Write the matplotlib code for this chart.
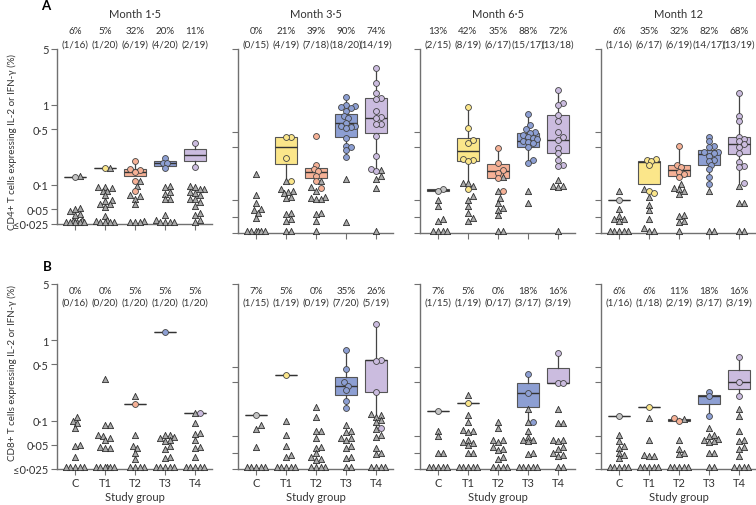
"""
CD4+ / CD8+ T-cell response by study group and visit month.

Two rows of four panels (Month 1.5, 3.5, 6.5, 12), log y axis,
responders as coloured circles with a box, non-responders as grey triangles.
"""
import numpy as np
import matplotlib
matplotlib.use("Agg")
import matplotlib.pyplot as plt
from matplotlib import transforms

plt.rcParams["font.family"] = ["Lato", "DejaVu Sans"]

# ── Labels ────────────────────────────────────────────────────────────────────
MONTHS = ["Month 1·5", "Month 3·5", "Month 6·5", "Month 12"]
GROUPS = ["C", "T1", "T2", "T3", "T4"]
YLABEL_CD4 = "CD4+ T cells expressing IL-2 or IFN-γ (%)"
YLABEL_CD8 = "CD8+ T cells expressing IL-2 or IFN-γ (%)"
YTICK_VALUES = [5, 1, 0.5, 0.1, 0.05]
YTICK_LABELS = ["5", "1", "0·5", "0·1", "0·05"]
LOD = 0.025  # "≤0·025"

# ── Responder counts ──────────────────────────────────────────────────────────
CD4_RESP_N = [[1, 1, 6, 4, 2], [0, 4, 7, 18, 14], [2, 8, 6, 15, 13], [1, 6, 6, 14, 13]]
CD4_TOTAL_N = [[16, 20, 19, 20, 19], [15, 19, 18, 20, 19], [15, 19, 17, 17, 18], [16, 17, 19, 17, 19]]
CD8_RESP_N = [[0, 0, 1, 1, 1], [1, 1, 0, 7, 5], [1, 1, 0, 3, 3], [1, 1, 2, 3, 3]]
CD8_TOTAL_N = [[16, 20, 20, 20, 20], [15, 19, 19, 20, 19], [15, 19, 17, 17, 19], [16, 18, 19, 17, 19]]

# ── CD4, responders (circles) / non-responders (triangles) / box (lo, q1, med, q3, hi)
CD4_M1_POS = [[0.124], [0.165], [0.198, 0.156, 0.152, 0.146, 0.113, 0.085],
              [0.215, 0.19, 0.186, 0.165], [0.33, 0.17]]
CD4_M1_NEG = [[0.13, 0.052, 0.05, 0.047, 0.043, 0.042, 0.036, 0.035, LOD, LOD, LOD, LOD, LOD, LOD],
              [0.165, 0.093, 0.093, 0.092, 0.085, 0.084, 0.074, 0.064, 0.063, 0.058, 0.057,
               0.053, 0.041, 0.036, 0.035, LOD, LOD, LOD, LOD],
              [0.113, 0.097, 0.074, 0.073, 0.067, 0.058, 0.035, LOD, LOD, LOD],
              [0.096, 0.095, 0.081, 0.078, 0.067, 0.066, 0.042, 0.036, LOD, LOD, LOD, LOD],
              [0.096, 0.095, 0.089, 0.088, 0.081, 0.080, 0.074, 0.067, 0.066, 0.061, 0.055,
               0.045, 0.042, 0.036, LOD]]
CD4_M1_BOX = [(0.124, 0.124, 0.124, 0.124, 0.124), (0.165, 0.165, 0.165, 0.165, 0.165),
              (0.128, 0.128, 0.146, 0.156, 0.198), (0.174, 0.174, 0.188, 0.202, 0.215),
              (0.17, 0.198, 0.24, 0.278, 0.33)]

CD4_M3_POS = [[], [0.40, 0.40, 0.215, 0.111], [0.41, 0.178, 0.156, 0.148, 0.13, 0.113, 0.091],
              [1.24, 0.99, 0.97, 0.93, 0.92, 0.85, 0.72, 0.68, 0.60, 0.55, 0.54, 0.53, 0.52,
               0.38, 0.31, 0.30, 0.27, 0.226],
              [2.87, 1.88, 1.40, 1.22, 1.20, 0.85, 0.71, 0.69, 0.58, 0.57, 0.41, 0.23, 0.16, 0.15]]
CD4_M3_NEG = [[0.137, 0.074, 0.060, 0.050, 0.049, 0.044, 0.039, LOD, LOD, LOD, LOD, LOD, LOD],
              [0.111, 0.089, 0.083, 0.082, 0.078, 0.070, 0.069, 0.044, 0.043, 0.0375, 0.035, LOD, LOD],
              [0.113, 0.093, 0.083, 0.070, 0.069, 0.067, 0.066, 0.044, 0.043, 0.035, LOD],
              [0.119, 0.034],
              [0.155, 0.13, 0.119, 0.091, LOD]]
CD4_M3_BOX = [None, (0.111, 0.183, 0.30, 0.40, 0.40), (0.122, 0.122, 0.146, 0.161, 0.161),
              (0.226, 0.40, 0.59, 0.78, 1.24), (0.148, 0.44, 0.69, 1.21, 2.87)]

CD4_M6_POS = [[0.089, 0.085], [0.93, 0.51, 0.36, 0.33, 0.21, 0.205, 0.20, 0.089],
              [0.29, 0.19, 0.154, 0.14, 0.122, 0.085],
              [0.77, 0.56, 0.50, 0.46, 0.45, 0.42, 0.40, 0.38, 0.37, 0.35, 0.345, 0.33, 0.30,
               0.205, 0.187],
              [1.54, 1.06, 1.0, 0.75, 0.62, 0.46, 0.40, 0.365, 0.29, 0.25, 0.205, 0.175, 0.17]]
CD4_M6_NEG = [[0.064, 0.054, 0.0375, 0.035, LOD, LOD, LOD, LOD],
              [0.107, 0.106, 0.097, 0.072, 0.065, 0.054, 0.045, 0.038, 0.035],
              [0.127, 0.085, 0.068, 0.06, 0.052, 0.048, 0.042, LOD, LOD],
              [0.083, 0.06],
              [0.115, 0.097, 0.096, 0.094, LOD]]
CD4_M6_BOX = [(0.085, 0.085, 0.087, 0.089, 0.089), (0.105, 0.198, 0.265, 0.38, 0.93),
              (0.122, 0.122, 0.148, 0.183, 0.29), (0.19, 0.30, 0.35, 0.45, 0.77),
              (0.17, 0.25, 0.365, 0.75, 1.54)]

CD4_M12_POS = [[0.064], [0.21, 0.205, 0.20, 0.178, 0.085, 0.078],
               [0.31, 0.178, 0.165, 0.146, 0.135, 0.126],
               [0.40, 0.35, 0.31, 0.30, 0.26, 0.255, 0.25, 0.23, 0.205, 0.20, 0.178, 0.156,
                0.125, 0.102],
               [1.41, 0.72, 0.62, 0.40, 0.37, 0.35, 0.32, 0.30, 0.25, 0.192, 0.17, 0.168, 0.105]]
CD4_M12_NEG = [[0.084, 0.05, 0.041, 0.0375, 0.037, 0.035, LOD, LOD, LOD, LOD, LOD],
               [0.089, 0.07, 0.056, 0.048, 0.0375, 0.029, LOD, LOD],
               [0.102, 0.091, 0.090, 0.084, 0.076, 0.042, 0.041, 0.035, 0.034, LOD],
               [0.084, LOD, LOD],
               [0.097, 0.06, 0.059, LOD, LOD]]
CD4_M12_BOX = [(0.064, 0.064, 0.064, 0.064, 0.064), (0.102, 0.102, 0.192, 0.198, 0.21),
               (0.13, 0.13, 0.152, 0.175, 0.31), (0.107, 0.178, 0.24, 0.27, 0.40),
               (0.11, 0.24, 0.32, 0.40, 1.41)]

# ── CD8 ───────────────────────────────────────────────────────────────────────
CD8_M1_POS = [[], [], [0.16], [1.25], [0.126]]
CD8_M1_NEG = [[0.111, 0.10, 0.093, 0.082, 0.05, 0.049, 0.035, LOD, LOD, LOD, LOD, LOD],
              [0.33, 0.088, 0.087, 0.066, 0.065, 0.061, 0.057, 0.047, 0.046, 0.045,
               LOD, LOD, LOD, LOD, LOD, LOD],
              [0.2, 0.067, 0.049, 0.045, 0.04, 0.033, LOD, LOD, LOD, LOD],
              [0.067, 0.066, 0.062, 0.061, 0.057, 0.056, 0.049, 0.044, 0.035, 0.034,
               LOD, LOD, LOD, LOD, LOD],
              [0.126, 0.094, 0.07, 0.069, 0.058, 0.047, 0.046, 0.035, LOD, LOD, LOD, LOD, LOD]]
CD8_M1_BOX = [None, None, (0.16, 0.16, 0.16, 0.16, 0.16), (1.25, 1.25, 1.25, 1.25, 1.25),
              (0.126, 0.126, 0.126, 0.126, 0.126)]

CD8_M3_POS = [[0.119], [0.37], [], [0.75, 0.44, 0.30, 0.27, 0.24, 0.176, 0.145],
              [1.59, 0.56, 0.55, 0.225, 0.082]]
CD8_M3_NEG = [[0.088, 0.079, 0.047, LOD, LOD, LOD, LOD, LOD],
              [0.10, 0.067, 0.049, 0.037, 0.035, LOD, LOD, LOD, LOD, LOD],
              [0.146, 0.112, 0.075, 0.074, 0.061, 0.047, 0.046, 0.04, 0.035, 0.033, 0.032,
               LOD, LOD, LOD, LOD],
              [0.089, 0.075, 0.072, 0.061, 0.060, 0.058, 0.049, 0.045, 0.035, 0.034, LOD, LOD],
              [0.12, 0.119, 0.11, 0.103, 0.096, 0.079, 0.067, 0.063, 0.045, 0.04, 0.038,
               LOD, LOD, LOD, LOD]]
CD8_M3_BOX = [(0.119, 0.119, 0.119, 0.119, 0.119), (0.37, 0.37, 0.37, 0.37, 0.37), None,
              (0.145, 0.21, 0.27, 0.35, 0.75), (0.082, 0.225, 0.56, 0.56, 1.59)]

CD8_M6_POS = [[0.13], [0.165], [], [0.38, 0.22, 0.096], [0.69, 0.29, 0.29]]
CD8_M6_NEG = [[0.075, 0.065, 0.04, 0.039, LOD, LOD, LOD, LOD, LOD],
              [0.21, 0.118, 0.096, 0.076, 0.075, 0.072, 0.058, 0.054, 0.053, 0.05, 0.04,
               0.039, LOD, LOD, LOD, LOD, LOD],
              [0.096, 0.08, 0.058, 0.057, 0.054, 0.047, 0.044, 0.043, 0.035, 0.033,
               LOD, LOD, LOD, LOD],
              [0.14, 0.096, 0.074, 0.063, 0.058, 0.057, 0.055, 0.039, 0.038,
               LOD, LOD, LOD, LOD, LOD],
              [0.14, 0.094, 0.093, 0.058, 0.057, 0.055, 0.047, 0.044, 0.04, 0.037, 0.036, LOD, LOD]]
CD8_M6_BOX = [(0.13, 0.13, 0.13, 0.13, 0.13), (0.165, 0.165, 0.165, 0.165, 0.165), None,
              (0.096, 0.146, 0.22, 0.29, 0.38), (0.29, 0.29, 0.29, 0.45, 0.69)]

CD8_M12_POS = [[0.115], [0.146], [0.108, 0.098], [0.23, 0.20, 0.115], [0.61, 0.30, 0.20]]
CD8_M12_NEG = [[0.067, 0.055, 0.049, 0.046, 0.04, 0.037, 0.034, LOD, LOD, LOD, LOD, LOD],
               [0.108, 0.058, 0.037, 0.036, 0.036, LOD, LOD, LOD, LOD, LOD],
               [0.104, 0.058, 0.044, 0.04, 0.038, LOD, LOD, LOD, LOD, LOD],
               [0.08, 0.066, 0.065, 0.059, 0.058, 0.055, 0.054, 0.04, 0.039, LOD, LOD],
               [0.14, 0.115, 0.075, 0.058, 0.055, 0.047, 0.044, 0.036, LOD, LOD, LOD, LOD]]
CD8_M12_BOX = [(0.115, 0.115, 0.115, 0.115, 0.115), (0.146, 0.146, 0.146, 0.146, 0.146),
               (0.098, 0.10, 0.103, 0.106, 0.108), (0.115, 0.16, 0.20, 0.21, 0.23),
               (0.20, 0.245, 0.30, 0.43, 0.61)]

# ── Style ─────────────────────────────────────────────────────────────────────
GROUP_COLORS = ["#c4c4c4", "#fbe68a", "#f6b196", "#8d9fd3", "#cbbcdf"]
TRI_COLOR = "#a9a9a9"
AXIS_COLOR = "#707070"
TEXT_COLOR = "#333333"

W, H = 756, 506
PANEL_LEFTS = [57, 238, 420, 601]
XLIM = (-0.6, 4.55)
PANEL_W = 154.5
# unlabelled tick marks on the inner panels sit at these levels in the original
INNER_TICKS = [5, 0.46, 0.30, 0.065, 0.04, 0.025]


def swarm_offsets(ypx, gap=4.6, max_off=10.0):
    """Simple beeswarm: horizontal pixel offsets so markers do not pile up."""
    offs = np.zeros(len(ypx))
    steps = [0.0]
    k = 1
    while k * gap / 2 <= max_off:
        steps += [k * gap / 2, -k * gap / 2]
        k += 1
    placed = []
    for i in np.argsort(ypx):
        best, best_d = 0.0, -1.0
        for s in steps:
            d = min((np.hypot(s - px, ypx[i] - py) for px, py in placed), default=np.inf)
            if d >= gap:
                best = s
                break
            if d > best_d:
                best, best_d = s, d
        offs[i] = best
        placed.append((best, ypx[i]))
    return offs


def draw_panel(fig, ax, pos, neg, boxes, floor):
    ax.set_yscale("log")
    ax.set_ylim(floor, 5)
    ax.set_xlim(*XLIM)
    px_per_unit = PANEL_W / (XLIM[1] - XLIM[0])

    for g in range(5):
        if boxes[g] is not None:
            lo, q1, med, q3, hi = boxes[g]
            ax.bxp([dict(whislo=lo, q1=q1, med=med, q3=q3, whishi=hi)],
                   positions=[g], widths=0.72, patch_artist=True,
                   showfliers=False, showcaps=False,
                   boxprops=dict(facecolor=GROUP_COLORS[g], edgecolor="#555555", lw=0.8),
                   medianprops=dict(color="#333333", lw=1.0),
                   whiskerprops=dict(color="#444444", lw=0.9),
                   zorder=2)
        vals = np.array(list(pos[g]) + list(neg[g]), dtype=float)
        if len(vals) == 0:
            continue
        shown = np.maximum(vals, floor * 1.07)
        ypx = ax.transData.transform(np.c_[np.full(len(shown), g), shown])[:, 1]
        xs = g + swarm_offsets(ypx) / px_per_unit
        npos = len(pos[g])
        ax.scatter(xs[:npos], shown[:npos], s=18, marker="o", color=GROUP_COLORS[g],
                   edgecolor="#444444", linewidth=0.6, zorder=4, clip_on=False)
        ax.scatter(xs[npos:], shown[npos:], s=20, marker="^", color=TRI_COLOR,
                   edgecolor="#2e2e2e", linewidth=0.6, zorder=3, clip_on=False)

    for side in ["top", "right"]:
        ax.spines[side].set_visible(False)
    for side in ["left", "bottom"]:
        ax.spines[side].set_color(AXIS_COLOR)
        ax.spines[side].set_linewidth(1.0)
    ax.tick_params(colors=AXIS_COLOR, labelcolor=TEXT_COLOR, length=4, width=0.8,
                   labelsize=8, pad=2)
    ax.minorticks_off()
    ax.set_xticks(range(5))


def label_groups(fig, ax, resp_n, total_n, y_pct, y_frac):
    blend = transforms.blended_transform_factory(ax.transData, fig.transFigure)
    for g in range(5):
        pct = round(100 * resp_n[g] / total_n[g])
        ax.text(g, 1 - y_pct / H, f"{pct}%", transform=blend, ha="center", va="center",
                fontsize=7.1, color=TEXT_COLOR)
        ax.text(g, 1 - y_frac / H, f"({resp_n[g]}/{total_n[g]})", transform=blend,
                ha="center", va="center", fontsize=7.1, color=TEXT_COLOR)


fig = plt.figure(figsize=(W / 100, H / 100), dpi=100)

rows = [
    dict(pos=[CD4_M1_POS, CD4_M3_POS, CD4_M6_POS, CD4_M12_POS],
         neg=[CD4_M1_NEG, CD4_M3_NEG, CD4_M6_NEG, CD4_M12_NEG],
         box=[CD4_M1_BOX, CD4_M3_BOX, CD4_M6_BOX, CD4_M12_BOX],
         resp=CD4_RESP_N, total=CD4_TOTAL_N, top=50, bottoms=[225, 234, 234, 234],
         floors=[0.0325, LOD, LOD, LOD], text_y=(32, 45)),
    dict(pos=[CD8_M1_POS, CD8_M3_POS, CD8_M6_POS, CD8_M12_POS],
         neg=[CD8_M1_NEG, CD8_M3_NEG, CD8_M6_NEG, CD8_M12_NEG],
         box=[CD8_M1_BOX, CD8_M3_BOX, CD8_M6_BOX, CD8_M12_BOX],
         resp=CD8_RESP_N, total=CD8_TOTAL_N, top=285, bottoms=[470, 470, 470, 470],
         floors=[LOD, LOD, LOD, LOD], text_y=(291, 303)),
]

for r, row in enumerate(rows):
    for m in range(4):
        left, top, bottom = PANEL_LEFTS[m], row["top"], row["bottoms"][m]
        ax = fig.add_axes([left / W, 1 - bottom / H, PANEL_W / W, (bottom - top) / H])
        floor = row["floors"][m]
        draw_panel(fig, ax, row["pos"][m], row["neg"][m], row["box"][m], floor)

        if m == 0:
            ax.set_yticks(YTICK_VALUES + [floor])
            ax.set_yticklabels(YTICK_LABELS + ["≤0·025"])
        else:
            ax.set_yticks(INNER_TICKS)
            ax.set_yticklabels([])

        blend = transforms.blended_transform_factory(ax.transData, fig.transFigure)
        if r == 0:
            ax.tick_params(axis="x", labelbottom=False)
            ax.text(2, 1 - 14 / H, MONTHS[m], transform=blend, ha="center", va="center",
                    fontsize=8, color=TEXT_COLOR)
        else:
            ax.set_xticklabels(GROUPS, fontsize=8)
            ax.tick_params(axis="x", pad=2)
            ax.text(2, 1 - 498 / H, "Study group", transform=blend, ha="center",
                    va="center", fontsize=8, color=TEXT_COLOR)
        label_groups(fig, ax, row["resp"][m], row["total"][m], *row["text_y"])

fig.text(12 / W, 1 - 142 / H, YLABEL_CD4, rotation=90, ha="center", va="center",
         fontsize=7, color=TEXT_COLOR)
fig.text(12 / W, 1 - 373 / H, YLABEL_CD8, rotation=90, ha="center", va="center",
         fontsize=7, color=TEXT_COLOR)
fig.text(46 / W, 1 - 6 / H, "A", fontsize=9.5, fontweight="bold", ha="center", va="center")
fig.text(47 / W, 1 - 267 / H, "B", fontsize=9.5, fontweight="bold", ha="center", va="center")

fig.savefig("out.png", dpi=100)
